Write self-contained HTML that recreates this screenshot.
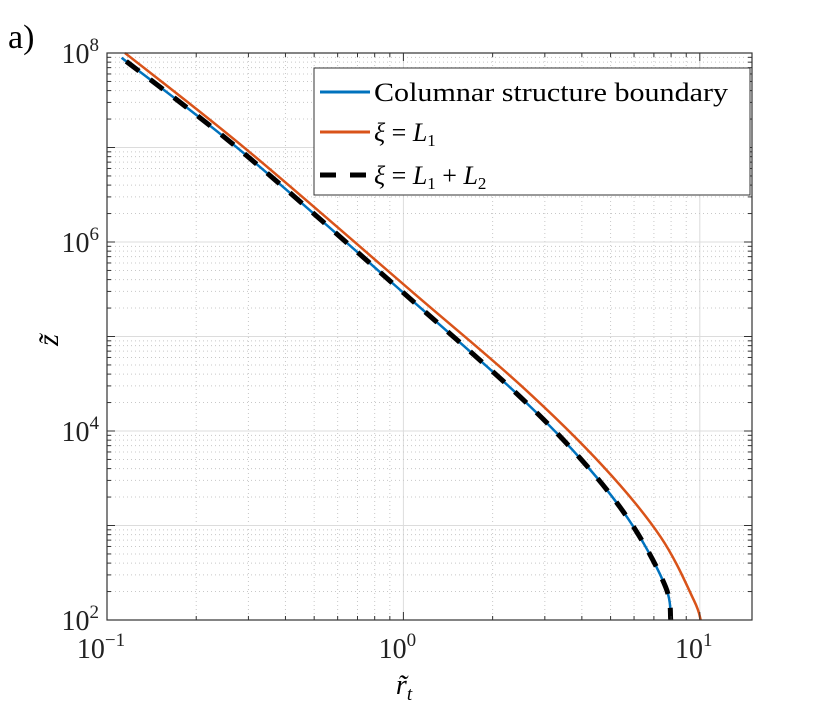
<!DOCTYPE html>
<html><head><meta charset="utf-8"><style>
body{margin:0;background:#fff}
svg{display:block;font-family:"Liberation Serif",serif}
</style></head><body>
<svg id="chart" width="830" height="708">
<text x="8" y="48" font-size="34">a)</text>
<g id="grid"></g>
<g id="series"></g>
<g id="axes"></g>
<text x="404" y="694" font-size="28" font-style="italic" text-anchor="middle">r̃<tspan font-size="19" dy="6">t</tspan></text>
<text x="0" y="0" font-size="30" font-style="italic" text-anchor="middle" transform="translate(58,340) rotate(-90)">z̃</text>
<g>
<rect x="314" y="68" width="436" height="127" fill="#fff" stroke="#333" stroke-width="1"/>
<line x1="320" y1="92" x2="370" y2="92" stroke="#0072BD" stroke-width="3"/>
<text x="374" y="101" font-size="26" textLength="354" lengthAdjust="spacingAndGlyphs">Columnar structure boundary</text>
<line x1="320" y1="132" x2="370" y2="132" stroke="#D95319" stroke-width="3"/>
<text x="374" y="141" font-size="26"><tspan font-style="italic">ξ</tspan> = <tspan font-style="italic">L</tspan><tspan font-size="17" dy="5">1</tspan></text>
<line x1="320" y1="175" x2="370" y2="175" stroke="#000" stroke-width="5" stroke-dasharray="16,14"/>
<text x="374" y="184" font-size="26"><tspan font-style="italic">ξ</tspan> = <tspan font-style="italic">L</tspan><tspan font-size="17" dy="5">1</tspan><tspan dy="-5"> + </tspan><tspan font-style="italic">L</tspan><tspan font-size="17" dy="5">2</tspan></text>
</g>
</svg>
<script>
const xTicks=[-1,0,1];
const yTicks=[2,4,6,8];
const orangeX=[0.115,0.297,1.08,2.48,4.74,7.38,9.54,10.07];
const orangeZ=[1e8,9.4e6,2.9e5,3.07e4,4.16e3,755,163,100];
const blueX=[0.112,0.281,1.0,2.48,4.19,5.98,7.67,7.98];
const blueZ=[8.9e7,9.4e6,2.9e5,2.29e4,4.16e3,964,223,100];
const L=107,R=752,T=53,B=620,XMIN=-1,XMAX=Math.log10(15),YMIN=2,YMAX=8;
const sx=v=>L+(Math.log10(v)-XMIN)/(XMAX-XMIN)*(R-L);
const sy=v=>B-(Math.log10(v)-YMIN)/(YMAX-YMIN)*(B-T);
const NS='http://www.w3.org/2000/svg';
function mk(tag,attrs,parent){const e=document.createElementNS(NS,tag);for(const k in attrs)e.setAttribute(k,attrs[k]);parent.appendChild(e);return e;}
const grid=document.getElementById('grid'),axes=document.getElementById('axes'),series=document.getElementById('series');
for(let d=-1;d<=1;d++){for(let m=1;m<=9;m++){const v=m*Math.pow(10,d);if(v>15)break;const x=sx(v);
const g=mk('line',{x1:x,x2:x,y1:T,y2:B,stroke:m==1?'#dcdcdc':'#c8c8c8','stroke-width':1,'stroke-dasharray':m==1?'':'1,3'},grid);


const t1=mk('line',{x1:x,x2:x,y1:B,y2:B-(m==1?8:4),stroke:'#333'},axes);


const t2=mk('line',{x1:x,x2:x,y1:T,y2:T+(m==1?8:4),stroke:'#333'},axes);

}}
for(let d=2;d<8;d++){for(let m=1;m<=9;m++){const v=m*Math.pow(10,d);const y=sy(v);
if(m>1||d>2){const g=mk('line',{x1:L,x2:R,y1:y,y2:y,stroke:m==1?'#dcdcdc':'#c8c8c8','stroke-width':1,'stroke-dasharray':m==1?'':'1,3'},grid);

}
const t1=mk('line',{x1:L,x2:L+(m==1?8:4),y1:y,y2:y,stroke:'#333'},axes);


const t2=mk('line',{x1:R,x2:R-(m==1?8:4),y1:y,y2:y,stroke:'#333'},axes);

}}
const box=mk('rect',{x:L,y:T,width:R-L,height:B-T,fill:'none',stroke:'#333','stroke-width':1.2},axes);


xTicks.forEach(e=>{const t=mk('text',{x:sx(Math.pow(10,e))-6,y:B+38,'font-size':28,'text-anchor':'middle',fill:'#222'},axes);
t.innerHTML='10<tspan font-size="19" dy="-12">'+(e<0?'−'+(-e):e)+'</tspan>';

});
yTicks.forEach(e=>{const t=mk('text',{x:L-8,y:sy(Math.pow(10,e))+10,'font-size':28,'text-anchor':'end',fill:'#222'},axes);
t.innerHTML='10<tspan font-size="19" dy="-12">'+e+'</tspan>';

});
function path(xs,zs){const p=xs.map((x,i)=>[sx(x),sy(zs[i])]);let d='M'+p[0][0]+','+p[0][1];
for(let i=0;i<p.length-1;i++){const p0=p[Math.max(0,i-1)],p1=p[i],p2=p[i+1],p3=p[Math.min(p.length-1,i+2)];
d+=' C'+(p1[0]+(p2[0]-p0[0])/6)+','+(p1[1]+(p2[1]-p0[1])/6)+' '+(p2[0]-(p3[0]-p1[0])/6)+','+(p2[1]-(p3[1]-p1[1])/6)+' '+p2[0]+','+p2[1];}return d;}
const o=mk('path',{d:path(orangeX,orangeZ),fill:'none',stroke:'#D95319','stroke-width':2.5},series);


const b=mk('path',{d:path(blueX,blueZ),fill:'none',stroke:'#0072BD','stroke-width':2.5},series);


const k=mk('path',{d:path(blueX,blueZ),fill:'none',stroke:'#000','stroke-width':5,'stroke-dasharray':'16,14','stroke-dashoffset':-6},series);


</script>
</body></html>
